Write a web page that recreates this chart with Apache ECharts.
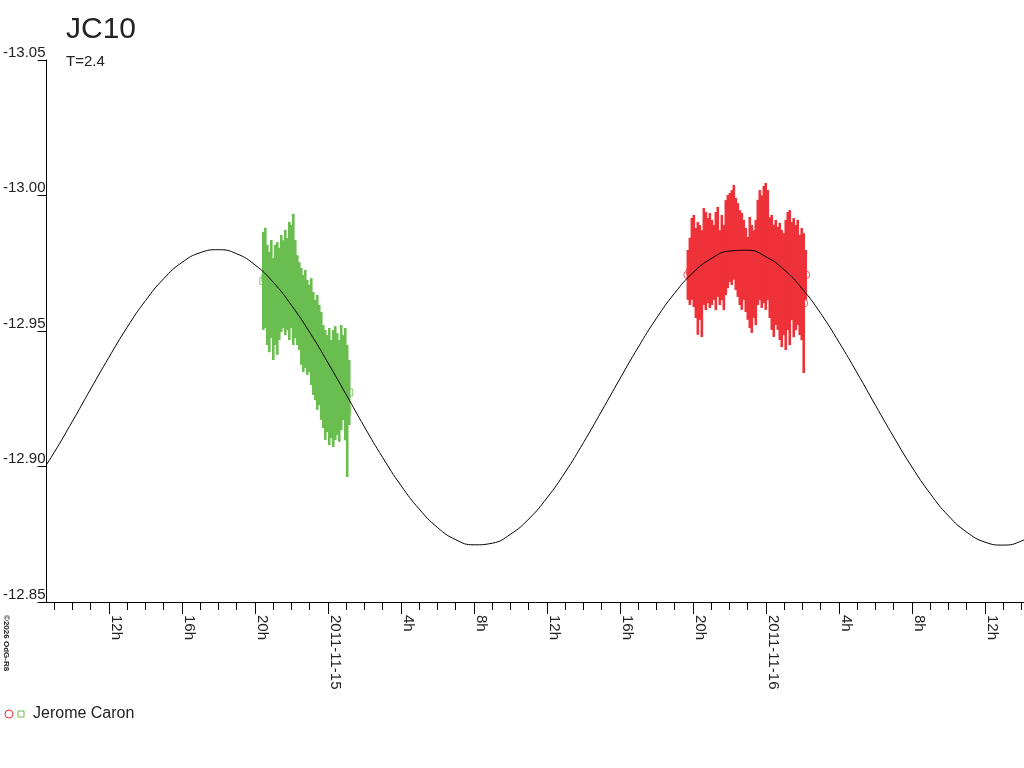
<!DOCTYPE html>
<html>
<head>
<meta charset="utf-8">
<title>JC10</title>
<script src="https://cdn.jsdelivr.net/npm/echarts@6.0.0/dist/echarts.min.js"></script>
<style>
	html, body { margin: 0; padding: 0; background: #fff; }
	#main { width: 1024px; height: 768px; }
</style>
</head>
<body>
<div id="main"></div>
<script>
// hours are counted from 2011-11-15 00:00
const X_MIN = -15.42;
const X_MAX = 38.14;

const minorHours = [-15, -14, -13, -12, -11, -10, -9, -8, -7, -6, -5, -4, -3, -2, -1, 0, 1, 2, 3, 4, 5, 6, 7, 8, 9, 10, 11, 12, 13, 14, 15, 16, 17, 18, 19, 20, 21, 22, 23, 24, 25, 26, 27, 28, 29, 30, 31, 32, 33, 34, 35, 36, 37, 38];
const majorHours = [-12, -8, -4, 0, 4, 8, 12, 16, 20, 24, 28, 32, 36];
const majorLabels = ["12h", "16h", "20h", "2011-11-15", "4h", "8h", "12h", "16h", "20h", "2011-11-16", "4h", "8h", "12h"];

// model curve, read hour by hour
const curveHours = [-16, -15, -14, -13, -12, -11, -10, -9, -8, -7, -6, -5, -4, -3, -2, -1, 0, 1, 2, 3, 4, 5, 6, 7, 8, 9, 10, 11, 12, 13, 14, 15, 16, 17, 18, 19, 20, 21, 22, 23, 24, 25, 26, 27, 28, 29, 30, 31, 32, 33, 34, 35, 36, 37, 38, 39];
const curveMag = [-12.8947, -12.9052, -12.9167, -12.9286, -12.9403, -12.9514, -12.9612, -12.9693, -12.9753, -12.9789, -12.98, -12.9785, -12.9744, -12.968, -12.9595, -12.9495, -12.9383, -12.9265, -12.9146, -12.9033, -12.893, -12.8843, -12.8775, -12.873, -12.8711, -12.8717, -12.875, -12.8806, -12.8884, -12.8979, -12.9088, -12.9205, -12.9324, -12.944, -12.9547, -12.964, -12.9715, -12.9767, -12.9795, -12.9798, -12.9774, -12.9726, -12.9655, -12.9565, -12.9459, -12.9345, -12.9226, -12.9109, -12.8998, -12.89, -12.8818, -12.8758, -12.8721, -12.871, -12.8725, -12.8765];

// observations: [hour, magnitude, error]
const greenObs = [
	[-3.541, -12.9685, 0.0181], [-3.432, -12.9696, 0.0185], [-3.322, -12.9633, 0.0185], [-3.213, -12.9607, 0.0185],
	[-3.103, -12.9655, 0.0181], [-2.994, -12.9581, 0.0188], [-2.884, -12.9633, 0.0185], [-2.775, -12.962, 0.0208],
	[-2.666, -12.9637, 0.017], [-2.556, -12.9675, 0.0179], [-2.447, -12.9673, 0.0162], [-2.337, -12.9679, 0.0194],
	[-2.228, -12.9673, 0.017], [-2.118, -12.9685, 0.0218], [-2.009, -12.9701, 0.019], [-1.899, -12.969, 0.0242],
	[-1.79, -12.9655, 0.0181], [-1.68, -12.9614, 0.0166], [-1.571, -12.9592, 0.0162], [-1.461, -12.9554, 0.0179],
	[-1.352, -12.9528, 0.0179], [-1.242, -12.9544, 0.0181], [-1.133, -12.9513, 0.0175], [-1.024, -12.9509, 0.0161],
	[-0.914, -12.9498, 0.0197], [-0.805, -12.9454, 0.019], [-0.695, -12.943, 0.0185], [-0.586, -12.9421, 0.0212],
	[-0.476, -12.9411, 0.0185], [-0.367, -12.9371, 0.0199], [-0.257, -12.9332, 0.019], [-0.148, -12.9301, 0.0203],
	[-0.038, -12.9306, 0.0179], [0.071, -12.9295, 0.0216], [0.181, -12.9286, 0.0181], [0.29, -12.9288, 0.0216],
	[0.4, -12.9308, 0.021], [0.509, -12.9304, 0.0188], [0.619, -12.9279, 0.0188], [0.728, -12.9328, 0.0194],
	[0.837, -12.9328, 0.0157], [0.947, -12.9304, 0.0207], [1.056, -12.9205, 0.0244], [1.166, -12.9273, 0.012],
];

const redObs = [
	[19.721, -12.9707, 0.0092], [19.83, -12.972, 0.0124], [19.94, -12.9766, 0.0151], [20.049, -12.9758, 0.017],
	[20.159, -12.9714, 0.0166], [20.268, -12.9694, 0.0208], [20.378, -12.9716, 0.0175], [20.487, -12.9675, 0.0197],
	[20.597, -12.9775, 0.0179], [20.706, -12.9758, 0.0181], [20.816, -12.976, 0.0157], [20.925, -12.976, 0.0175],
	[21.035, -12.9753, 0.0157], [21.144, -12.9753, 0.0138], [21.254, -12.9758, 0.0181], [21.363, -12.9792, 0.0166],
	[21.473, -12.9734, 0.0138], [21.582, -12.9771, 0.0157], [21.692, -12.9734, 0.0157], [21.801, -12.9808, 0.0175],
	[21.91, -12.983, 0.0172], [22.02, -12.9845, 0.0164], [22.129, -12.9845, 0.0175], [22.239, -12.9864, 0.0175],
	[22.348, -12.9821, 0.017], [22.458, -12.9799, 0.0173], [22.567, -12.9771, 0.0175], [22.677, -12.9757, 0.0179],
	[22.786, -12.9762, 0.0148], [22.896, -12.9725, 0.0155], [23.005, -12.9694, 0.0153], [23.115, -12.9716, 0.0205],
	[23.224, -12.9692, 0.0199], [23.334, -12.971, 0.0162], [23.443, -12.9716, 0.0194], [23.553, -12.979, 0.0194],
	[23.662, -12.9817, 0.0203], [23.771, -12.9793, 0.0208], [23.881, -12.9819, 0.0216], [23.99, -12.9812, 0.0234],
	[24.1, -12.9817, 0.0203], [24.209, -12.9734, 0.0186], [24.319, -12.9716, 0.0212], [24.428, -12.9685, 0.0207],
	[24.538, -12.9716, 0.0194], [24.647, -12.9694, 0.019], [24.757, -12.9683, 0.0216], [24.866, -12.9657, 0.0216],
	[24.976, -12.9673, 0.0188], [25.085, -12.967, 0.024], [25.195, -12.9721, 0.0218], [25.304, -12.9697, 0.0249],
	[25.414, -12.9721, 0.0181], [25.523, -12.9697, 0.022], [25.632, -12.9697, 0.0194], [25.742, -12.9716, 0.0194],
	[25.851, -12.967, 0.0185], [25.961, -12.9673, 0.0207], [26.07, -12.9603, 0.0258], [26.18, -12.9707, 0.0092],
];

const RED = "#ee3239";
const GREEN = "#6abd4f";
const FONT = "Liberation Sans";

// one vertical error bar per observation, slightly wider than the spacing so the cloud reads solid
function renderErrorBar(params, api) {
	const h = api.value(0);
	const mag = api.value(1);
	const err = api.value(2);
	const top = api.coord([h, mag - err]);
	const bottom = api.coord([h, mag + err]);
	return {
		type: "rect",
		shape: { x: top[0] - 1.3, y: top[1], width: 2.6, height: bottom[1] - top[1] },
		style: { fill: api.visual("color") },
	};
}

function hourLabel(value) {
	const i = majorHours.indexOf(Math.round(value));
	return i >= 0 ? majorLabels[i] : "";
}

const chart = echarts.init(document.getElementById("main"), null, { renderer: "canvas" });

const option = {
	animation: false,
	backgroundColor: "#fff",
	title: {
		text: "JC10",
		subtext: "T=2.4",
		left: 61,
		top: 10,
		itemGap: 9,
		textStyle: { fontFamily: FONT, fontSize: 30, fontWeight: "normal", color: "#222" },
		subtextStyle: { fontFamily: FONT, fontSize: 15, color: "#222" },
	},
	grid: { left: 46, right: 0, top: 60, bottom: 166, containLabel: false },
	xAxis: [
		{
			type: "value",
			min: X_MIN,
			max: X_MAX,
			position: "bottom",
			axisLine: { show: true, onZero: false, lineStyle: { color: "#000", width: 1 } },
			axisTick: { show: true, customValues: minorHours, length: 8, lineStyle: { color: "#000" } },
			axisLabel: { show: false },
			splitLine: { show: false },
		},
		{
			type: "value",
			min: X_MIN,
			max: X_MAX,
			position: "bottom",
			axisLine: { show: false, onZero: false },
			axisTick: { show: true, customValues: majorHours, length: 12, lineStyle: { color: "#000" } },
			axisLabel: {
				show: true,
				customValues: majorHours,
				rotate: -90,
				margin: 13,
				align: "left",
				verticalAlign: "bottom",
				fontFamily: FONT,
				fontSize: 15,
				color: "#222",
				formatter: hourLabel,
			},
			splitLine: { show: false },
		},
	],
	yAxis: {
		type: "value",
		inverse: true,
		min: -13.05,
		max: -12.85,
		interval: 0.05,
		axisLine: { show: true, onZero: false, lineStyle: { color: "#000", width: 1 } },
		axisTick: { show: true, length: 9, lineStyle: { color: "#000" } },
		axisLabel: {
			margin: 1,
			verticalAlign: "bottom",
			fontFamily: FONT,
			fontSize: 15,
			color: "#222",
			formatter: (v) => v.toFixed(2),
		},
		splitLine: { show: false },
	},
	series: [
		{
			name: "green points",
			type: "scatter",
			xAxisIndex: 0,
			symbol: "rect",
			symbolSize: 7,
			itemStyle: { color: "#fff", borderColor: GREEN, borderWidth: 1 },
			data: greenObs.map((d) => [d[0], d[1]]),
			z: 1,
		},
		{
			name: "red points",
			type: "scatter",
			xAxisIndex: 0,
			symbol: "circle",
			symbolSize: 8,
			itemStyle: { color: "#fff", borderColor: RED, borderWidth: 1 },
			data: redObs.map((d) => [d[0], d[1]]),
			z: 1,
		},
		{
			name: "green bars",
			type: "custom",
			xAxisIndex: 0,
			renderItem: renderErrorBar,
			itemStyle: { color: GREEN },
			encode: { x: 0, y: 1 },
			data: greenObs,
			z: 2,
		},
		{
			name: "red bars",
			type: "custom",
			xAxisIndex: 0,
			renderItem: renderErrorBar,
			itemStyle: { color: RED },
			encode: { x: 0, y: 1 },
			data: redObs,
			z: 2,
		},
		{
			name: "model",
			type: "line",
			xAxisIndex: 0,
			smooth: true,
			symbol: "none",
			lineStyle: { color: "#000", width: 1 },
			data: curveHours.map((h, i) => [h, curveMag[i]]),
			z: 3,
		},
	],
	graphic: [
		{
			type: "text",
			x: 2,
			y: 615,
			rotation: -Math.PI / 2,
			style: { text: "©2026 OdG-R8", font: "bold 8px " + FONT, fill: "#222", textAlign: "left", textVerticalAlign: "bottom" },
		},
		{
			type: "circle",
			shape: { cx: 9, cy: 714, r: 4 },
			style: { fill: "none", stroke: RED, lineWidth: 1 },
		},
		{
			type: "rect",
			shape: { x: 18, y: 711, width: 6, height: 6 },
			style: { fill: "none", stroke: GREEN, lineWidth: 1 },
		},
		{
			type: "text",
			x: 33,
			y: 714,
			style: { text: "Jerome Caron", font: "16px " + FONT, fill: "#222", textAlign: "left", textVerticalAlign: "middle" },
		},
	],
};

chart.setOption(option, true);
</script>
</body>
</html>
